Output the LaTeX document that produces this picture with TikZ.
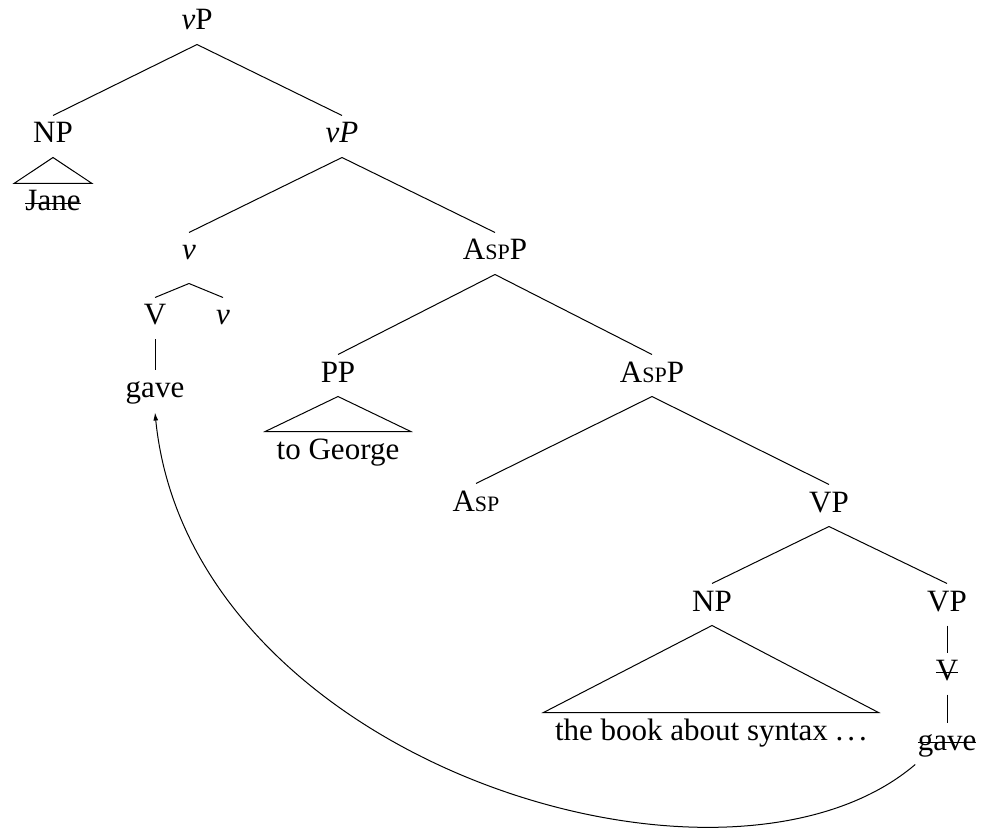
\documentclass[tikz,border=0pt]{standalone}
\usepackage{fontspec}
\setmainfont{Liberation Serif}
\usetikzlibrary{calc,arrows.meta}
\newcommand{\strk}[1]{\setbox0=\hbox{#1}\rlap{\rule[6.8pt]{\wd0}{1.6pt}}\box0}
\newcommand{\aspsc}{A{\fontsize{22}{26}\selectfont SP}}
\begin{document}
\begin{tikzpicture}[x=1pt,y=-1pt,line width=1pt,
  treenode/.style={font=\fontsize{31}{37}\selectfont, text height=21pt, text depth=8pt,
    inner xsep=2pt, inner ysep=6pt, anchor=base},
  trinode/.style={treenode, inner xsep=11pt},
  arr/.style={-{Latex[length=8pt,width=5pt]}}]
\useasboundingbox (0,0) rectangle (991,834);
% nodes
\node[treenode] (vp) at (197,30) {\textit{v}P};
\node[treenode] (np) at (53,143) {NP};
\node[treenode] (vp2) at (342,143) {\textit{vP}};
\node[trinode] (jane) at (53,211) {\strk{Jane}};
\node[treenode] (v) at (189,260) {\textit{v}};
\node[treenode] (asp1) at (495,260) {\aspsc P};
\node[treenode] (V1) at (155,325) {V};
\node[treenode] (v2) at (223,325) {\textit{v}};
\node[treenode] (gave1) at (155,398) {gave};
\node[treenode] (pp) at (338,382) {PP};
\node[trinode] (george) at (338,459) {to George};
\node[treenode] (asp2) at (652,382) {\aspsc P};
\node[treenode] (asp) at (476,511) {\aspsc};
\node[treenode] (vp3) at (829,512) {VP};
\node[treenode] (np2) at (712,611) {NP};
\node[treenode] (vp4) at (947,611) {VP};
\node[trinode] (book) at (711,740) {the book about syntax .\kern4pt.\kern4pt.};
\node[treenode] (V2) at (947,680) {\strk{V}};
\node[treenode] (gave2) at (947,750) {\strk{gave}};
% edges
\draw (vp.south) -- (np.north);
\draw (vp.south) -- (vp2.north);
\draw (np.south) -- (jane.north west) -- (jane.north east) -- cycle;
\draw (vp2.south) -- (v.north);
\draw (vp2.south) -- (asp1.north);
\draw ($(v.south)+(0,9)$) -- (V1.north);
\draw ($(v.south)+(0,9)$) -- (v2.north);
\draw (V1.south) -- (gave1.north);
\draw (asp1.south) -- (pp.north);
\draw (asp1.south) -- (asp2.north);
\draw (pp.south) -- (george.north west) -- (george.north east) -- cycle;
\draw (asp2.south) -- (asp.north);
\draw (asp2.south) -- (vp3.north);
\draw (vp3.south) -- (np2.north);
\draw (vp3.south) -- (vp4.north);
\draw (np2.south) -- (book.north west) -- (book.north east) -- cycle;
\draw (vp4.south) -- (V2.north);
\draw (V2.south) -- (gave2.north);
\draw[arr] (gave2.south west) .. controls +(-190,162) and +(35,350) .. (gave1.south);
\end{tikzpicture}
\end{document}
